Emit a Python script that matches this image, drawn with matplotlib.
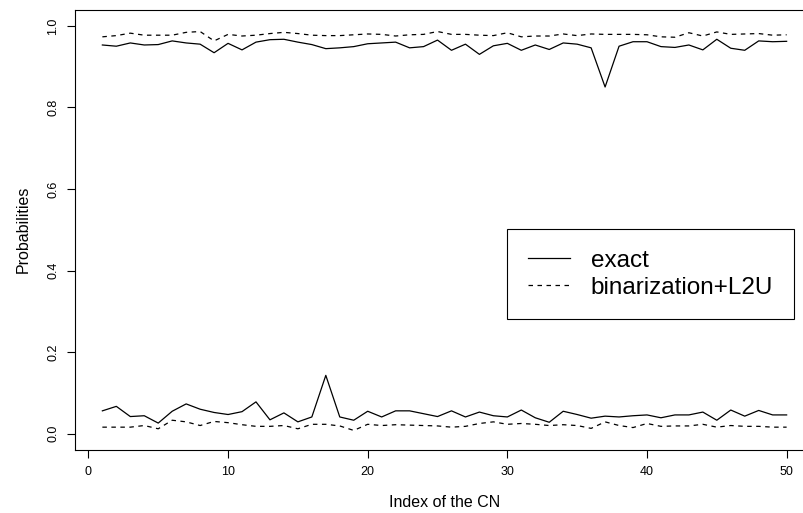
"""Exact vs binarization+L2U probabilities over the CN index."""
import matplotlib
matplotlib.use("Agg")
import matplotlib.pyplot as plt
import numpy as np

plt.rcParams.update({"font.family": "Liberation Sans", "font.size": 9})

cn_index = np.arange(1, 51)

exact_high = [0.953, 0.950, 0.958, 0.953, 0.954, 0.963, 0.958, 0.955, 0.934, 0.957,
              0.941, 0.960, 0.966, 0.967, 0.960, 0.954, 0.944, 0.946, 0.949, 0.956,
              0.958, 0.960, 0.946, 0.949, 0.965, 0.940, 0.955, 0.930, 0.951, 0.957,
              0.940, 0.953, 0.942, 0.958, 0.955, 0.946, 0.850, 0.950, 0.961, 0.961,
              0.949, 0.947, 0.953, 0.941, 0.967, 0.945, 0.940, 0.963, 0.961, 0.962]
exact_low = [0.056, 0.067, 0.042, 0.044, 0.026, 0.055, 0.073, 0.060, 0.052, 0.047,
             0.054, 0.078, 0.034, 0.051, 0.029, 0.041, 0.143, 0.041, 0.033, 0.055,
             0.041, 0.056, 0.056, 0.049, 0.042, 0.056, 0.041, 0.053, 0.044, 0.041,
             0.058, 0.039, 0.028, 0.055, 0.047, 0.038, 0.043, 0.041, 0.044, 0.046,
             0.039, 0.046, 0.046, 0.053, 0.033, 0.058, 0.043, 0.057, 0.046, 0.046]
binar_high = [0.973, 0.976, 0.982, 0.977, 0.977, 0.977, 0.984, 0.986, 0.963, 0.979,
              0.975, 0.977, 0.981, 0.984, 0.981, 0.977, 0.976, 0.976, 0.978, 0.980,
              0.979, 0.975, 0.978, 0.979, 0.986, 0.979, 0.979, 0.977, 0.976, 0.983,
              0.973, 0.975, 0.975, 0.980, 0.976, 0.980, 0.979, 0.979, 0.979, 0.978,
              0.973, 0.972, 0.983, 0.975, 0.985, 0.979, 0.980, 0.981, 0.977, 0.978]
binar_low = [0.016, 0.016, 0.016, 0.020, 0.012, 0.033, 0.029, 0.020, 0.030, 0.027,
             0.022, 0.018, 0.018, 0.020, 0.012, 0.023, 0.023, 0.019, 0.008, 0.023,
             0.020, 0.022, 0.021, 0.020, 0.019, 0.016, 0.018, 0.025, 0.029, 0.023,
             0.025, 0.023, 0.020, 0.022, 0.020, 0.013, 0.029, 0.020, 0.015, 0.025,
             0.018, 0.019, 0.019, 0.023, 0.016, 0.020, 0.018, 0.018, 0.016, 0.016]

W, H = 804, 513
fig = plt.figure(figsize=(W / 100, H / 100), dpi=100)
# plot box in pixels: left 75, right 814 (cut off by the image), top 9.5, bottom 450
ax = fig.add_axes([75 / W, (H - 450) / H, (814 - 75) / W, (450 - 9.5) / H])

style = dict(color="black", lw=0.9)
l1, = ax.plot(cn_index, exact_high, **style)
ax.plot(cn_index, exact_low, **style)
l2, = ax.plot(cn_index, binar_high, ls=(0, (3.6, 3.6)), **style)
ax.plot(cn_index, binar_low, ls=(0, (3.6, 3.6)), **style)

ax.set_xlim(-0.96, 51.96)
ax.set_ylim(-0.04, 1.04)
ax.set_xticks(np.arange(0, 51, 10))
ax.set_yticks(np.arange(0, 1.01, 0.2))
ax.set_yticklabels([f"{v:.1f}" for v in np.arange(0, 1.01, 0.2)], rotation=90, va="center")
ax.tick_params(direction="out", length=5.5, width=0.8, pad=6, labelsize=9)
for sp in ax.spines.values():
    sp.set_linewidth(0.8)

ax.set_xlabel("Index of the CN", fontsize=11.5, labelpad=12)
ax.set_ylabel("Probabilities", fontsize=11.5, labelpad=12)

leg = ax.legend([l1, l2], ["exact", "binarization+L2U"], loc="upper left",
                bbox_to_anchor=(507 / W, 1 - 229 / H), bbox_transform=fig.transFigure,
                borderaxespad=0, fontsize=17.5, handlelength=1.75, handletextpad=0.85,
                borderpad=0.85, labelspacing=0.2, fancybox=False, framealpha=1)
leg.get_frame().set_edgecolor("black")
leg.get_frame().set_linewidth(0.8)

fig.savefig("out.png", dpi=100)
